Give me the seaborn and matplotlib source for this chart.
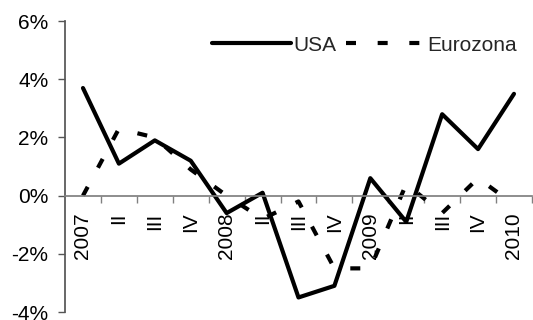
import numpy as np
import matplotlib
matplotlib.use("Agg")
import matplotlib.pyplot as plt
import seaborn as sns

categories = ["2007", "II", "III", "IV", "2008", "II", "III", "IV", "2009", "II", "III", "IV", "2010"]
usa = [3.7, 1.1, 1.9, 1.2, -0.6, 0.1, -3.5, -3.1, 0.6, -0.9, 2.8, 1.6, 3.5]
eurozona = [0.0, 2.3, 2.0, 0.9, 0.0, -0.8, -0.2, -2.5, -2.5, 0.4, -0.6, 0.6, -0.3]
y_ticks = [-4, -2, 0, 2, 4, 6]

sns.set_theme(style="white")
plt.rcParams['font.family'] = ['Liberation Sans', 'DejaVu Sans']
FS = 15

fig = plt.figure(figsize=(5.33, 3.2), dpi=100)
ax = fig.add_axes([0.122, 0.025, 0.876, 0.909])

pos = np.arange(len(categories))
sns.lineplot(x=pos, y=usa, color='black', lw=3, label='USA', ax=ax)
sns.lineplot(x=pos, y=eurozona, color='black', lw=3, label='Eurozona', ax=ax)
ax.lines[1].set_dashes((2.4, 5.2))
ax.lines[1].set_dash_capstyle('butt')

ax.set_xlim(-0.5, len(categories) - 0.5)
ax.set_ylim(-4, 6)
ax.set_yticks(y_ticks)
ax.set_yticklabels([f"{v}%" for v in y_ticks])

ax.xaxis.set_major_locator(matplotlib.ticker.FixedLocator(np.arange(len(categories)) + 0.5))
ax.xaxis.set_major_formatter(matplotlib.ticker.NullFormatter())
ax.xaxis.set_minor_locator(matplotlib.ticker.FixedLocator(pos))
ax.xaxis.set_minor_formatter(matplotlib.ticker.FixedFormatter(categories))
ax.tick_params(axis='x', which='major', direction='out', length=5, width=1, color='#808080', bottom=True)
ax.tick_params(axis='x', which='minor', length=0, pad=12, bottom=True,
               labelrotation=90, labelsize=FS, labelcolor='black')
ax.tick_params(axis='y', direction='out', length=5, width=1, color='#555555', left=True,
               labelsize=FS, pad=7, labelcolor='black')

for s in ['top', 'right']:
    ax.spines[s].set_visible(False)
ax.spines['bottom'].set_position(('data', 0))
ax.spines['bottom'].set_color('#808080')
ax.spines['left'].set_color('#555555')
ax.set_facecolor('none')

leg = ax.legend(loc='upper right', bbox_to_anchor=(1.0, 1.0), ncol=2, frameon=False,
                fontsize=FS, handlelength=3.8, handletextpad=0.1, columnspacing=0.5,
                borderaxespad=0.3)

fig.savefig('out.png', dpi=100)
